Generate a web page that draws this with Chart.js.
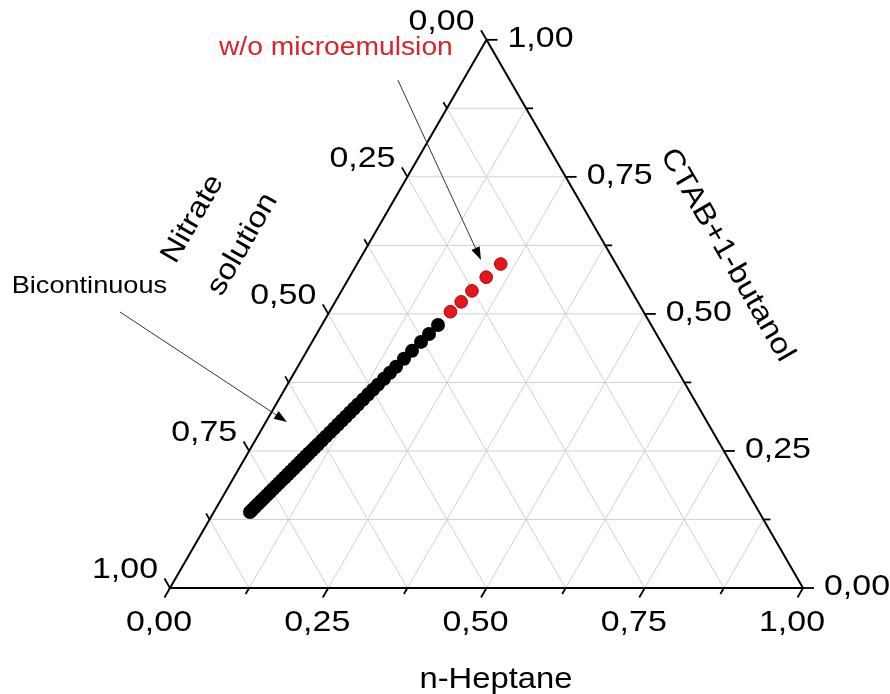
<!DOCTYPE html>
<html>
<head>
<meta charset="utf-8">
<script src="https://cdn.jsdelivr.net/npm/chart.js@4.4.0/dist/chart.umd.min.js"></script>
<style>
  body { margin: 0; background: #fff; }
  #wrap { width: 890px; height: 694px; }
</style>
</head>
<body>
<div id="wrap"><canvas id="ternary" width="890" height="694"></canvas></div>
<script>
// fractions of n-Heptane and CTAB+1-butanol, nitrate solution is the rest
var bicontHeptane = [0.1835, 0.1775, 0.1721, 0.1660, 0.1606, 0.1553, 0.1512, 0.1472, 0.1431, 0.1398,
                     0.1364, 0.1331, 0.1297, 0.1270, 0.1243, 0.1216, 0.1189, 0.1162, 0.1136, 0.1109,
                     0.1082, 0.1055, 0.1028, 0.1008, 0.0988, 0.0967, 0.0947, 0.0927, 0.0907, 0.0887,
                     0.0867, 0.0846, 0.0826, 0.0806, 0.0786, 0.0766, 0.0745, 0.0725, 0.0705, 0.0685,
                     0.0665, 0.0645, 0.0624, 0.0604, 0.0584, 0.0571];
var bicontCtab = [0.4798, 0.4634, 0.4489, 0.4326, 0.4181, 0.4036, 0.3927, 0.3818, 0.3709, 0.3618,
                  0.3528, 0.3437, 0.3346, 0.3274, 0.3201, 0.3128, 0.3056, 0.2983, 0.2911, 0.2838,
                  0.2765, 0.2693, 0.2620, 0.2566, 0.2511, 0.2457, 0.2403, 0.2348, 0.2294, 0.2239,
                  0.2185, 0.2130, 0.2076, 0.2021, 0.1967, 0.1913, 0.1858, 0.1804, 0.1749, 0.1695,
                  0.1640, 0.1586, 0.1532, 0.1477, 0.1423, 0.1386];
var noMicroHeptane = [0.191, 0.199, 0.206, 0.216, 0.227];
var noMicroCtab = [0.504, 0.522, 0.542, 0.567, 0.591];

var tickValues = [0, 0.25, 0.5, 0.75, 1];
var tickLabels = ["0,00", "0,25", "0,50", "0,75", "1,00"];
var minorTicks = [0.125, 0.375, 0.625, 0.875];
var gridSteps = [0.125, 0.25, 0.375, 0.5, 0.625, 0.75, 0.875];

var FONT = '"Liberation Sans", Arial, sans-serif';
var STRETCH = 1.13;

function tern(h, c) {
  return { x: h + c / 2, y: c * Math.sqrt(3) / 2 };
}

function toPoints(hs, cs) {
  return hs.map(function(h, i) { return tern(h, cs[i]); });
}

function drawText(ctx, text, x, y, size, align, rot, color) {
  ctx.save();
  ctx.translate(x, y);
  if (rot) ctx.rotate(rot);
  ctx.scale(STRETCH, 1);
  ctx.font = size + 'px ' + FONT;
  ctx.textAlign = align;
  ctx.textBaseline = 'middle';
  ctx.fillStyle = color || '#000';
  ctx.fillText(text, 0, 0);
  ctx.restore();
}

function seg(ctx, a, b) {
  ctx.beginPath();
  ctx.moveTo(a[0], a[1]);
  ctx.lineTo(b[0], b[1]);
  ctx.stroke();
}

var ternaryAxes = {
  id: 'ternaryAxes',
  beforeDatasetsDraw: function(chart) {
    var ctx = chart.ctx, sx = chart.scales.x, sy = chart.scales.y;
    function px(h, c) {
      var p = tern(h, c);
      return [sx.getPixelForValue(p.x), sy.getPixelForValue(p.y)];
    }
    ctx.save();

    // grid lines for the three components
    ctx.strokeStyle = '#d0d0d0';
    ctx.lineWidth = 1;
    gridSteps.forEach(function(v) {
      seg(ctx, px(v, 0), px(v, 1 - v));
      seg(ctx, px(0, v), px(1 - v, v));
      seg(ctx, px(0, 1 - v), px(1 - v, 0));
    });

    // triangle
    ctx.strokeStyle = '#000';
    ctx.lineWidth = 2;
    ctx.beginPath();
    var a = px(0, 0), b = px(1, 0), t = px(0, 1);
    ctx.moveTo(a[0], a[1]);
    ctx.lineTo(b[0], b[1]);
    ctx.lineTo(t[0], t[1]);
    ctx.closePath();
    ctx.stroke();

    // ticks
    var dBottom = [-0.5, 0.866], dLeft = [-0.5, -0.866], dRight = [1, 0];
    function tick(p, d, len) {
      seg(ctx, p, [p[0] + d[0] * len, p[1] + d[1] * len]);
    }
    ctx.lineWidth = 1.8;
    tickValues.forEach(function(v) {
      tick(px(v, 0), dBottom, 11);
      tick(px(0, 1 - v), dLeft, 11);
      tick(px(1 - v, v), dRight, 11);
    });
    minorTicks.forEach(function(v) {
      tick(px(v, 0), dBottom, 7);
      tick(px(0, 1 - v), dLeft, 7);
      tick(px(1 - v, v), dRight, 7);
    });

    // tick labels
    tickValues.forEach(function(v, i) {
      var pb = px(v, 0), pl = px(0, 1 - v), pr = px(1 - v, v);
      drawText(ctx, tickLabels[i], pb[0] - 11, pb[1] + 35, 30, 'center');
      drawText(ctx, tickLabels[i], pl[0] - 12, pl[1] - 18, 30, 'right');
      drawText(ctx, tickLabels[i], pr[0] + 21, pr[1] - 1, 30, 'left');
    });
    ctx.restore();
  },
  afterDatasetsDraw: function(chart) {
    var ctx = chart.ctx, sx = chart.scales.x, sy = chart.scales.y;
    function P(x, y) { return [sx.getPixelForValue(x), sy.getPixelForValue(y)]; }
    ctx.save();

    // axis titles
    var p = P(0.515, -0.145);
    drawText(ctx, 'n-Heptane', p[0], p[1], 29, 'center');
    p = P(0.036, 0.583);
    drawText(ctx, 'Nitrate', p[0], p[1], 29, 'center', -Math.PI / 3);
    p = P(0.115, 0.543);
    drawText(ctx, 'solution', p[0], p[1], 29, 'center', -Math.PI / 3);
    p = P(0.880, 0.526);
    drawText(ctx, 'CTAB+1-butanol', p[0], p[1], 29, 'center', Math.PI / 3);

    // annotations
    p = P(0.262, 0.853);
    drawText(ctx, 'w/o microemulsion', p[0], p[1], 25, 'center', 0, '#d8262b');
    p = P(-0.250, 0.476);
    drawText(ctx, 'Bicontinuous', p[0], p[1], 24, 'left');

    function arrow(from, to) {
      var dx = to[0] - from[0], dy = to[1] - from[1];
      var len = Math.sqrt(dx * dx + dy * dy), ux = dx / len, uy = dy / len;
      var hl = 13, hw = 4.5;
      ctx.strokeStyle = '#333';
      ctx.lineWidth = 1;
      seg(ctx, from, [to[0] - ux * hl, to[1] - uy * hl]);
      ctx.fillStyle = '#000';
      ctx.beginPath();
      ctx.moveTo(to[0], to[1]);
      ctx.lineTo(to[0] - ux * hl - uy * hw, to[1] - uy * hl + ux * hw);
      ctx.lineTo(to[0] - ux * hl + uy * hw, to[1] - uy * hl - ux * hw);
      ctx.closePath();
      ctx.fill();
    }
    arrow(P(0.360, 0.8025), P(0.4913, 0.5182));
    arrow(P(-0.079, 0.436), P(0.1848, 0.2622));
    ctx.restore();
  }
};

new Chart(document.getElementById('ternary'), {
  type: 'scatter',
  data: {
    datasets: [
      {
        label: 'Bicontinuous',
        data: toPoints(bicontHeptane, bicontCtab),
        backgroundColor: '#000',
        borderColor: '#000',
        pointRadius: 7,
        borderWidth: 0
      },
      {
        label: 'w/o microemulsion',
        data: toPoints(noMicroHeptane, noMicroCtab),
        backgroundColor: '#e8161b',
        borderColor: '#9e0b0b',
        pointRadius: 6.3,
        borderWidth: 1
      }
    ]
  },
  options: {
    responsive: false,
    animation: false,
    layout: { padding: 0, autoPadding: false },
    plugins: {
      legend: { display: false },
      tooltip: { enabled: false }
    },
    scales: {
      x: { type: 'linear', display: false, min: -170 / 633, max: 720 / 633 },
      y: { type: 'linear', display: false, min: -106 / 633, max: 588 / 633 }
    }
  },
  plugins: [ternaryAxes]
});
</script>
</body>
</html>
